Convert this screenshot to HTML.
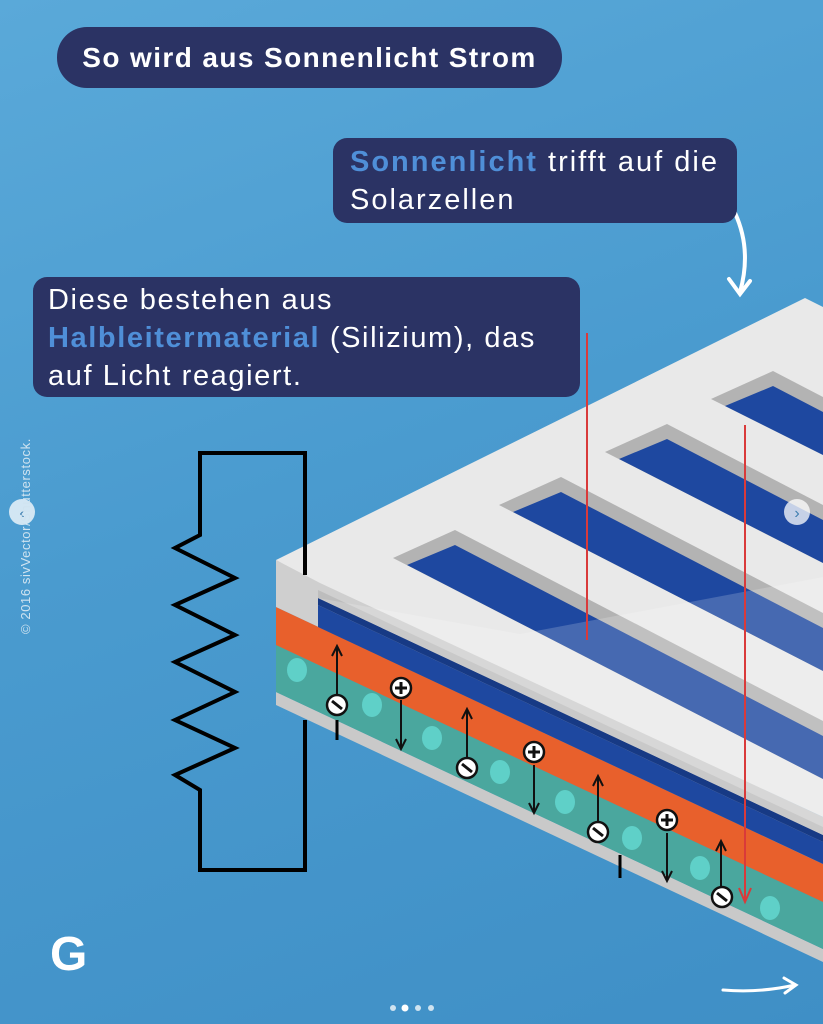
<!DOCTYPE html>
<html><head><meta charset="utf-8"><style>
html,body{margin:0;padding:0}
body{width:823px;height:1024px;overflow:hidden;position:relative;background:linear-gradient(160deg,#5aa9d9 0%,#4a9bcf 45%,#3f8fc6 100%);font-family:"Liberation Sans",sans-serif}
.box{position:absolute;background:#2b3364;color:#fff;font-weight:bold;white-space:nowrap}
.hl{color:#4f8fd8}
.n{font-weight:normal}
</style></head><body>
<svg width="823" height="1024" style="position:absolute;left:0;top:0">
<!-- layers -->
<polygon points="276,692 823,949 823,962 276,705" fill="#c9c9c9"/>
<polygon points="276,645 823,902 823,949 276,692" fill="#4aa79e"/>
<polygon points="276,607 823,864 823,902 276,645" fill="#e8602c"/>
<polygon points="276,560 823,817 823,864 276,607" fill="#cfcfcf"/>
<polygon points="318,605 823,842 823,864 318,627" fill="#1e48a0"/>
<polygon points="318,598 823,835 823,842 318,605" fill="#173a85"/>
<!-- teal dots -->
<g fill="#5fd0c8">
<ellipse cx="297" cy="670" rx="10" ry="12"/><ellipse cx="372" cy="705" rx="10" ry="12"/>
<ellipse cx="432" cy="738" rx="10" ry="12"/><ellipse cx="500" cy="772" rx="10" ry="12"/>
<ellipse cx="565" cy="802" rx="10" ry="12"/><ellipse cx="632" cy="838" rx="10" ry="12"/>
<ellipse cx="700" cy="868" rx="10" ry="12"/><ellipse cx="770" cy="908" rx="10" ry="12"/>
</g>
<!-- top plate -->
<polygon points="276,560 805,298 823,307 823,817 320,583 276,560" fill="#e9e9e9"/>
<polygon points="318,590 823,827 823,835 318,598" fill="#bdbdbd"/>
<!-- openings: wall (grey) then blue -->
<g>
<polygon points="393,558 455,530 823,721 823,779" fill="#b3b3b3"/>
<polygon points="407,565 455,545 823,736 823,779" fill="#1e48a0"/>
<polygon points="499,505 561,477 823,613 823,671" fill="#b3b3b3"/>
<polygon points="513,512 561,492 823,628 823,671" fill="#1e48a0"/>
<polygon points="605,452 667,424 823,505 823,563" fill="#b3b3b3"/>
<polygon points="619,459 667,439 823,520 823,563" fill="#1e48a0"/>
<polygon points="711,399 773,371 823,397 823,455" fill="#b3b3b3"/>
<polygon points="725,406 773,386 823,412 823,455" fill="#1e48a0"/>
</g>
<!-- translucent light overlay -->
<polygon points="318,598 520,634 823,577 823,835" fill="#ffffff" opacity="0.18"/>
<!-- red rays -->
<line x1="587" y1="333" x2="587" y2="640" stroke="#d93a3a" stroke-width="2"/>
<line x1="745" y1="425" x2="745" y2="900" stroke="#d93a3a" stroke-width="2"/>
<polyline points="739,888 745,902 751,888" fill="none" stroke="#d93a3a" stroke-width="2"/>
<!-- circuit -->
<g fill="none" stroke="#000" stroke-width="4" stroke-linejoin="miter">
<polyline points="305,575 305,453 200,453 200,535 175,548 235,578 175,605 235,635 175,662 235,692 175,720 235,748 175,775 200,790 200,870 305,870 305,720"/>
<line x1="337" y1="720" x2="337" y2="740" stroke-width="3"/>
<line x1="620" y1="855" x2="620" y2="878" stroke-width="3"/>
</g>
<!-- arrows -->
<g stroke="#111" stroke-width="2" fill="none">
<line x1="337" y1="700" x2="337" y2="647"/><polyline points="332,656 337,646 342,656"/>
<line x1="467" y1="760" x2="467" y2="710"/><polyline points="462,719 467,709 472,719"/>
<line x1="598" y1="825" x2="598" y2="777"/><polyline points="593,786 598,776 603,786"/>
<line x1="721" y1="890" x2="721" y2="842"/><polyline points="716,851 721,841 726,851"/>
<line x1="401" y1="700" x2="401" y2="748"/><polyline points="396,739 401,749 406,739"/>
<line x1="534" y1="765" x2="534" y2="812"/><polyline points="529,803 534,813 539,803"/>
<line x1="667" y1="833" x2="667" y2="880"/><polyline points="662,871 667,881 672,871"/>
</g>
<g stroke="#111" stroke-width="2.5" fill="#fff">
<circle cx="337" cy="705" r="10"/><circle cx="467" cy="768" r="10"/><circle cx="598" cy="832" r="10"/><circle cx="722" cy="897" r="10"/>
<circle cx="401" cy="688" r="10"/><circle cx="534" cy="752" r="10"/><circle cx="667" cy="820" r="10"/>
</g>
<g stroke="#111" stroke-width="3">
<line x1="332" y1="701" x2="342" y2="709"/><line x1="462" y1="764" x2="472" y2="772"/><line x1="593" y1="828" x2="603" y2="836"/><line x1="717" y1="893" x2="727" y2="901"/>
<line x1="395" y1="688" x2="407" y2="688"/><line x1="401" y1="682" x2="401" y2="694"/>
<line x1="528" y1="752" x2="540" y2="752"/><line x1="534" y1="746" x2="534" y2="758"/>
<line x1="661" y1="820" x2="673" y2="820"/><line x1="667" y1="814" x2="667" y2="826"/>
</g>
<!-- white curved arrow -->
<path d="M735,213 Q752,250 740,292" fill="none" stroke="#fff" stroke-width="4" stroke-linecap="round"/>
<polyline points="729,279 740,294 750,281" fill="none" stroke="#fff" stroke-width="4" stroke-linecap="round"/>
<!-- bottom right arrow -->
<path d="M723,990 Q760,993 795,985" fill="none" stroke="#fff" stroke-width="3" stroke-linecap="round"/>
<polyline points="784,978 796,985 785,993" fill="none" stroke="#fff" stroke-width="3" stroke-linecap="round"/>
<!-- nav -->
<circle cx="22" cy="512" r="13" fill="#fff" opacity="0.75"/>
<text x="22" y="518" font-size="16" text-anchor="middle" fill="#3f7fb0" font-family="Liberation Sans">‹</text>
<circle cx="797" cy="512" r="13" fill="#fff" opacity="0.75"/>
<text x="797" y="518" font-size="16" text-anchor="middle" fill="#3f7fb0" font-family="Liberation Sans">›</text>
<text transform="translate(30,634) rotate(-90)" font-size="13" letter-spacing="0.6" fill="#cfe3f0" font-family="Liberation Sans">© 2016 sivVector/Shutterstock.</text>
<!-- dots -->
<circle cx="393" cy="1008" r="3" fill="#cfe3f0"/><circle cx="405" cy="1008" r="3.5" fill="#fff"/><circle cx="418" cy="1008" r="3" fill="#cfe3f0"/><circle cx="431" cy="1008" r="3" fill="#cfe3f0"/>
<text x="50" y="970" font-size="48" font-weight="bold" fill="#fff" font-family="Liberation Sans">G</text>
</svg>
<div class="box" style="left:57px;top:27px;width:505px;height:61px;border-radius:30px;font-size:28px;letter-spacing:1.4px;line-height:61px;text-align:center">So wird aus Sonnenlicht Strom</div>
<div class="box" style="left:333px;top:138px;width:404px;height:85px;border-radius:14px;font-size:29px;letter-spacing:2px;line-height:38px;box-sizing:border-box;padding:5px 0 0 17px"><span class="hl">Sonnenlicht</span> <span class="n">trifft auf die<br>Solarzellen</span></div>
<div class="box" style="left:33px;top:277px;width:547px;height:120px;border-radius:14px;font-size:29px;letter-spacing:1.6px;line-height:38px;box-sizing:border-box;padding:4px 0 0 15px"><span class="n">Diese bestehen aus</span><br><span class="hl">Halbleitermaterial</span> <span class="n">(Silizium), das<br>auf Licht reagiert.</span></div>
</body></html>
